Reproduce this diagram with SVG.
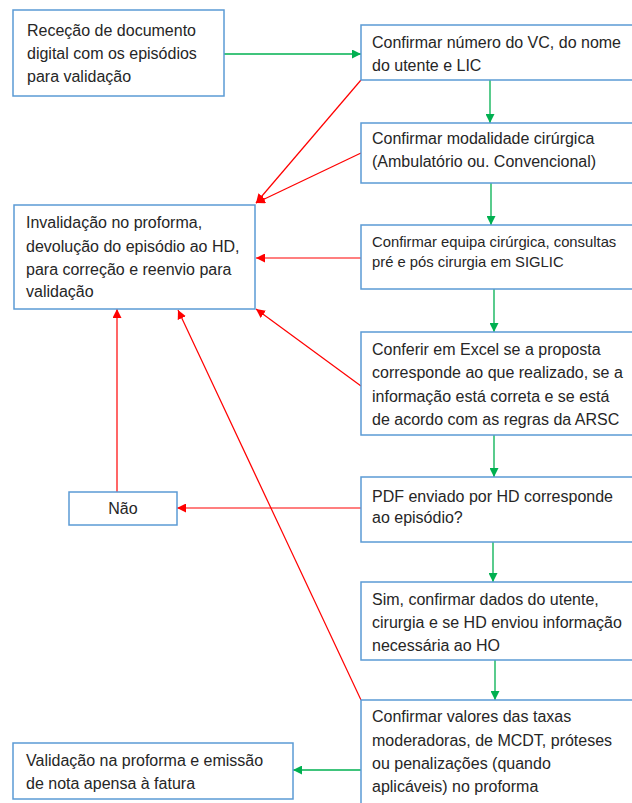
<svg xmlns="http://www.w3.org/2000/svg" width="632" height="803" viewBox="0 0 632 803">
<defs>
<style>
.box{fill:#fff;stroke:#5B9BD5;stroke-width:1.5}
text{font-family:"Liberation Sans",Arial,sans-serif;font-size:16px;fill:#262626}
.sm{font-size:14.8px}
.g{stroke:#00B050;stroke-width:1.3;fill:none;marker-end:url(#ag)}
.r{stroke:#FF0000;stroke-width:1.2;fill:none;marker-end:url(#ar)}
</style>
<marker id="ag" viewBox="0 0 10 10" refX="10" refY="5" markerWidth="9" markerHeight="9" markerUnits="userSpaceOnUse" orient="auto" preserveAspectRatio="none"><path d="M0,0 L10,5 L0,10 z" fill="#00B050"/></marker>
<marker id="ar" viewBox="0 0 10 10" refX="10" refY="5" markerWidth="9" markerHeight="9" markerUnits="userSpaceOnUse" orient="auto" preserveAspectRatio="none"><path d="M0,0 L10,5 L0,10 z" fill="#FF0000"/></marker>
</defs>
<rect width="632" height="803" fill="#fff"/>

<g id="connectors">
<line class="g" x1="224" y1="54" x2="361" y2="54"/>
<line class="g" x1="490" y1="80" x2="490" y2="123"/>
<line class="g" x1="491" y1="183" x2="491" y2="225"/>
<line class="g" x1="494" y1="289" x2="494" y2="332"/>
<line class="g" x1="494" y1="435" x2="494" y2="477"/>
<line class="g" x1="493" y1="542" x2="493" y2="582"/>
<line class="g" x1="495" y1="660" x2="495" y2="700"/>
<line class="g" x1="361" y1="770" x2="293" y2="770"/>
<line class="r" x1="361" y1="80" x2="256" y2="203"/>
<line class="r" x1="361" y1="153" x2="256" y2="203"/>
<line class="r" x1="361" y1="258" x2="256" y2="258"/>
<line class="r" x1="361" y1="386" x2="256" y2="309"/>
<line class="r" x1="117" y1="492" x2="117" y2="309"/>
<line class="r" x1="361" y1="700" x2="178" y2="310"/>
<line class="r" x1="361" y1="508" x2="177" y2="508"/>
</g>

<g id="n1"><rect class="box" x="13" y="10" width="211" height="86"/>
<text x="27" y="36">Receção de documento</text>
<text x="27" y="59">digital com os episódios</text>
<text x="27" y="82">para validação</text></g>

<g id="n2"><rect class="box" x="361" y="25" width="290" height="55"/>
<text x="372" y="48">Confirmar número do VC, do nome</text>
<text x="372" y="71">do utente e LIC</text></g>

<g id="n3"><rect class="box" x="361" y="123" width="290" height="60"/>
<text x="372" y="144">Confirmar modalidade cirúrgica</text>
<text x="372" y="167">(Ambulatório ou. Convencional)</text></g>

<g id="n4"><rect class="box" x="361" y="225" width="290" height="64"/>
<text class="sm" x="372" y="247">Confirmar equipa cirúrgica, consultas</text>
<text class="sm" x="372" y="267">pré e pós cirurgia em SIGLIC</text></g>

<g id="n5"><rect class="box" x="361" y="332" width="290" height="103"/>
<text x="372" y="355">Conferir em Excel se a proposta</text>
<text x="372" y="378">corresponde ao que realizado, se a</text>
<text x="372" y="402">informação está correta e se está</text>
<text x="372" y="425">de acordo com as regras da ARSC</text></g>

<g id="n6"><rect class="box" x="361" y="477" width="290" height="65"/>
<text x="372" y="502">PDF enviado por HD corresponde</text>
<text x="372" y="523">ao episódio?</text></g>

<g id="n7"><rect class="box" x="361" y="582" width="290" height="78"/>
<text x="372" y="605">Sim, confirmar dados do utente,</text>
<text x="372" y="628">cirurgia e se HD enviou informação</text>
<text x="372" y="651">necessária ao HO</text></g>

<g id="n8"><rect class="box" x="361" y="700" width="290" height="120"/>
<text x="372" y="722">Confirmar valores das taxas</text>
<text x="372" y="746">moderadoras, de MCDT, próteses</text>
<text x="372" y="769">ou penalizações (quando</text>
<text x="372" y="792">aplicáveis) no proforma</text></g>

<g id="n9"><rect class="box" x="14" y="205" width="241" height="104"/>
<text x="26" y="228">Invalidação no proforma,</text>
<text x="26" y="252">devolução do episódio ao HD,</text>
<text x="26" y="275">para correção e reenvio para</text>
<text x="26" y="297">validação</text></g>

<g id="n10"><rect class="box" x="69" y="492" width="108" height="33"/>
<text x="123" y="514" text-anchor="middle">Não</text></g>

<g id="n11"><rect class="box" x="13" y="743" width="280" height="56"/>
<text x="26" y="766">Validação na proforma e emissão</text>
<text x="26" y="789">de nota apensa à fatura</text></g>
</svg>
